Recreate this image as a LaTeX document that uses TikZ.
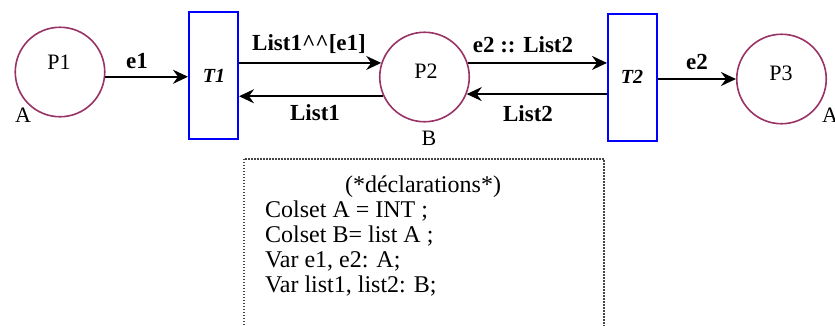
\documentclass[tikz,border=0pt]{standalone}
\usepackage{fontspec}
\setmainfont{Liberation Serif}
\usetikzlibrary{arrows.meta}
\definecolor{placecol}{HTML}{993366}
\definecolor{dotcol}{HTML}{444444}
\begin{document}
\begin{tikzpicture}[x=1pt,y=-1pt,
  place/.style={circle,draw=placecol,line width=1.6pt,minimum size=89.5pt,inner sep=0pt},
  trans/.style={rectangle,draw=blue,line width=2pt,minimum width=49pt,minimum height=127pt,inner sep=0pt},
  arc/.style={line width=1.8pt,-{Stealth[length=15pt,width=14pt,inset=5pt]}},
  lab/.style={font=\fontsize{23}{25}\selectfont\bfseries,anchor=base,inner sep=0pt},
  plab/.style={font=\fontsize{22}{25}\selectfont,anchor=base,inner sep=0pt},
  tlab/.style={font=\fontsize{20}{24}\selectfont\bfseries\itshape,anchor=base,inner sep=0pt},
  dlab/.style={font=\fontsize{24}{25}\selectfont,anchor=base west,inner sep=0pt},
  declbox/.style={draw=dotcol,line width=1.5pt,dash pattern=on 1.5pt off 1.5pt,anchor=north west,minimum width=360pt,minimum height=180pt,inner sep=0pt}]
\useasboundingbox (0,0) rectangle (835,325);
% places
\node[place] (P1) at (60,72) {};
\node[place] (P2) at (424.5,77) {};
\node[place] (P3) at (781.5,79) {};
% transitions
\node[trans] (T1) at (213.5,75.5) {};
\node[trans] (T2) at (632.5,77.5) {};
% place labels
\node[plab] (p1t) at (59,69) {P1};
\node[plab] (p2t) at (426,78) {P2};
\node[plab] (p3t) at (781,80) {P3};
\node[plab] (p1c) at (23,122) {A};
\node[plab] (p2c) at (429,145) {B};
\node[plab,anchor=base west] (p3c) at (822,122) {A};
% transition labels
\node[tlab] (t1t) at (214,82) {T1};
\node[tlab] (t2t) at (632,83) {T2};
% arcs
\draw[arc] (P1.-6) -- (T1.west |- P1.-6);
\draw[arc] (T1.east |- P2.162) -- (P2.162);
\draw[arc] (P2.205) -- (T1.east |- P2.205);
\draw[arc] (P2.18) -- (T2.west |- P2.18);
\draw[arc] (T2.west |- P2.-22) -- (P2.-22);
\draw[arc] (T2.east |- P3.west) -- (P3.west);
% arc labels
\node[lab] (l1) at (137,68) {e1};
\node[lab] (l2) at (309,50) {List1\textasciicircum\textasciicircum[e1]};
\node[lab] (l3) at (315,120) {List1};
\node[lab] (l4) at (523,52) {e2 :: List2};
\node[lab] (l5) at (528,121) {List2};
\node[lab] (l6) at (697,69) {e2};
% declarations
\node[declbox] (decl) at (243,158) {};
\node[plab,font=\fontsize{24}{25}\selectfont] (d0) at (423,192) {(*déclarations*)};
\node[dlab] (d1) at (265,217) {Colset A = INT ;};
\node[dlab] (d2) at (265,242) {Colset B= list A ;};
\node[dlab] (d3) at (265,267) {Var e1, e2: A;};
\node[dlab] (d4) at (265,292) {Var list1, list2: B;};
\end{tikzpicture}
\end{document}
